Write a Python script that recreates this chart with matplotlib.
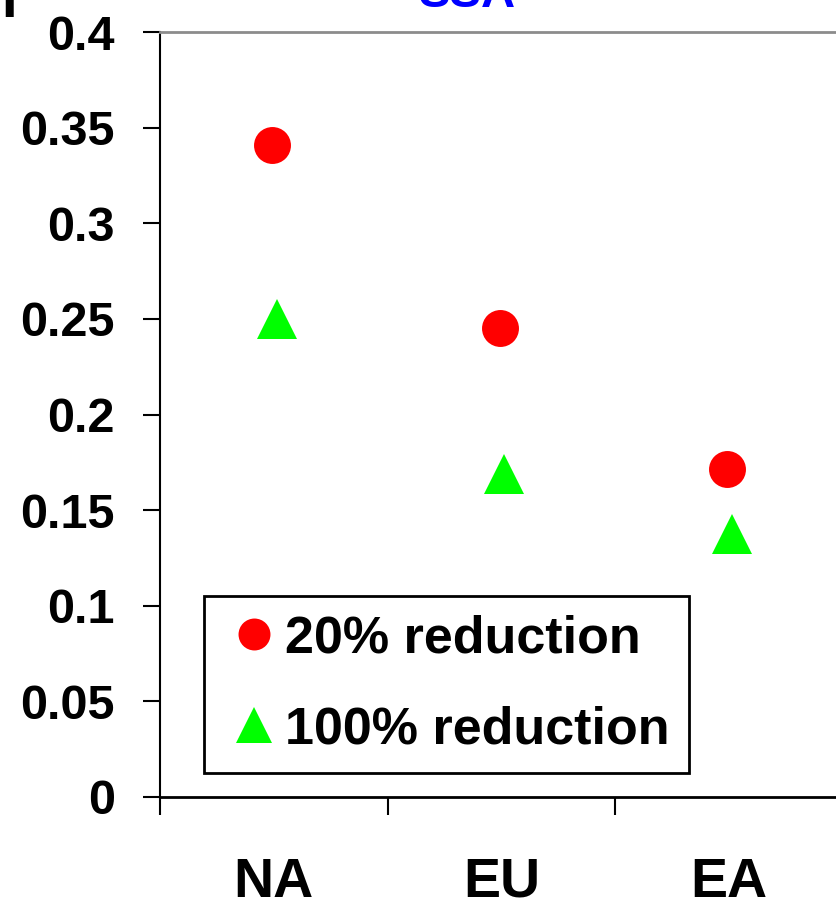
import matplotlib
matplotlib.use("Agg")
import matplotlib.pyplot as plt
from matplotlib.lines import Line2D

plt.rcParams['font.family'] = ['Liberation Sans', 'DejaVu Sans']
plt.rcParams['font.weight'] = 'bold'

regions = ["NA", "EU", "EA"]
reduction_20 = [0.341, 0.245, 0.1715]
reduction_100 = [0.25, 0.169, 0.1375]
series_labels = ["20% reduction", "100% reduction"]
y_ticks = [0, 0.05, 0.1, 0.15, 0.2, 0.25, 0.3, 0.35, 0.4]
y_tick_labels = ["0", "0.05", "0.1", "0.15", "0.2", "0.25", "0.3", "0.35", "0.4"]
panel_title = "SSA"

W, H = 837, 907
fig = plt.figure(figsize=(W / 100, H / 100), dpi=100)
ax = fig.add_axes([160 / W, 110 / H, 683 / W, 765 / H])

xpos = [i + 0.5 for i in range(len(regions))]
ax.plot([x - 0.008 for x in xpos], reduction_20, linestyle='none', marker='o',
        markersize=26.6, color='#ff0000', markeredgewidth=0, zorder=3)
ax.plot([x + 0.012 for x in xpos], reduction_100, linestyle='none', marker='^',
        markersize=29, color='#00ff00', markeredgewidth=0, zorder=3)

ax.set_xlim(0, 3)
ax.set_ylim(0, 0.4)

ax.set_yticks(y_ticks)
ax.set_yticklabels(y_tick_labels)
ax.tick_params(axis='y', direction='out', length=12.5, width=1.5, pad=20,
               labelsize=35, color='black')

ax.set_xticks([0, 1, 2, 3])
ax.set_xticklabels([])
ax.tick_params(axis='x', which='major', direction='out', length=13, width=1.5)
ax.set_xticks(xpos, minor=True)
ax.set_xticklabels(regions, minor=True)
ax.tick_params(axis='x', which='minor', length=0, pad=43, labelsize=40)

for lab in ax.get_yticklabels() + ax.get_xticklabels(minor=True):
    lab.set_fontweight('bold')

ax.spines['left'].set_linewidth(1.5)
ax.spines['bottom'].set_linewidth(2)
ax.spines['top'].set_color('#8c8c8c')
ax.spines['top'].set_linewidth(2)
ax.spines['right'].set_visible(False)

handles = [
    Line2D([], [], linestyle='none', marker='o', markersize=23,
           color='#ff0000', markeredgewidth=0),
    Line2D([], [], linestyle='none', marker='^', markersize=26,
           color='#00ff00', markeredgewidth=0),
]
leg = ax.legend(handles, series_labels, loc='lower left',
                bbox_to_anchor=(44 / 683, 24 / 765), borderaxespad=0,
                frameon=True, fancybox=False, edgecolor='black',
                prop={'size': 37.5, 'weight': 'bold'},
                handlelength=1.2, handletextpad=0.0, labelspacing=0.8,
                borderpad=0.36)
leg.get_frame().set_linewidth(2)
leg.get_frame().set_facecolor('white')
leg.get_frame().set_alpha(1)

fig.text(467 / W, 900 / H, panel_title, color='#0000ff', fontsize=34,
         fontweight='bold', ha='center', va='baseline')
fig.text(1.5 / W, 890 / H, "I", color='black', fontsize=40,
         fontweight='bold', ha='left', va='baseline')

fig.savefig("out.png", dpi=100)
